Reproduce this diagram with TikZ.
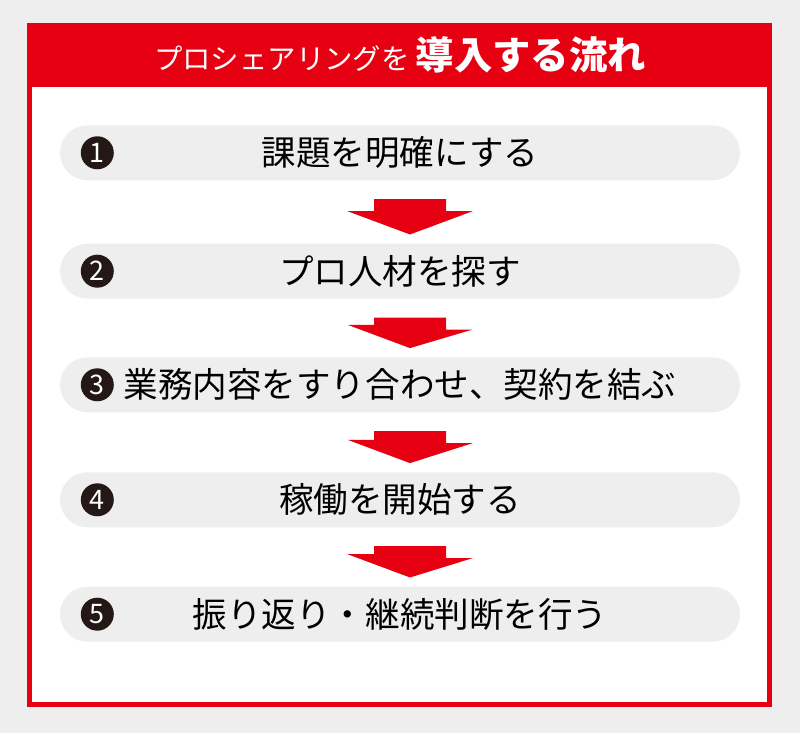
\documentclass[tikz,border=0pt]{standalone}
\usepackage{fontspec}
\setmainfont{Noto Sans CJK JP}
\definecolor{flowred}{HTML}{E60012}
\definecolor{bggray}{HTML}{EEEEEE}
\definecolor{pillgray}{HTML}{EEEEEE}
\definecolor{dotblack}{HTML}{231815}

\begin{document}
\begin{tikzpicture}[x=1bp,y=1bp,
          pill/.style={rectangle, rounded corners=27.5bp, fill=pillgray,
            minimum width=680bp, minimum height=55bp, inner sep=0pt,
            font=\fontsize{34.7}{40}\selectfont},
          numdot/.style={circle, fill=dotblack, text=white, minimum size=33bp,
            inner sep=0pt, font=\fontsize{27}{27}\selectfont},
          redarrow/.style={fill=flowred}]

        % background and frame
        \fill[bggray] (0,0) rectangle (800,733);
        \fill[flowred] (27.3,26.3) rectangle (772.3,709.7);
        \fill[white] (32.3,31.3) rectangle (767.3,646.3);

        \node[text=white] (title) at (400,678)
          {\fontsize{28.5}{30}\selectfont プロシェアリングを\hspace{6bp}\fontsize{38.5}{40}\selectfont\bfseries 導入する流れ};

        \node[pill] (s1) at (400,580.2) {課題を明確にする};
        \node[pill] (s2) at (400,461.8) {プロ人材を探す};
        \node[pill] (s3) at (400,348.2) {業務内容をすり合わせ、契約を結ぶ};
        \node[pill] (s4) at (400,233.2) {稼働を開始する};
        \node[pill] (s5) at (400,118.8) {振り返り・継続判断を行う};

        \node[numdot] (n1) at ([xshift=37.5bp]s1.west) {1};
        \node[numdot] (n2) at ([xshift=37.5bp]s2.west) {2};
        \node[numdot] (n3) at ([xshift=37.5bp]s3.west) {3};
        \node[numdot] (n4) at ([xshift=37.5bp]s4.west) {4};
        \node[numdot] (n5) at ([xshift=37.5bp]s5.west) {5};

        % block arrows between the steps
        \fill[redarrow] ([xshift=-26bp,yshift=-18.7bp]s1.south) -- ++(72,0) -- ++(0,-12)
          -- ++(26.5,0) -- ([xshift=10bp,yshift=9bp]s2.north) -- ++(-62.5,23.3) -- ++(26.5,0) -- cycle;
        \fill[redarrow] ([xshift=-26bp,yshift=-18.7bp]s2.south) -- ++(72,0) -- ++(0,-12)
          -- ++(26.5,0) -- ([xshift=10bp,yshift=9bp]s3.north) -- ++(-62.5,23.3) -- ++(26.5,0) -- cycle;
        \fill[redarrow] ([xshift=-26bp,yshift=-18.7bp]s3.south) -- ++(72,0) -- ++(0,-12)
          -- ++(26.5,0) -- ([xshift=10bp,yshift=9bp]s4.north) -- ++(-62.5,23.3) -- ++(26.5,0) -- cycle;
        \fill[redarrow] ([xshift=-26bp,yshift=-18.7bp]s4.south) -- ++(72,0) -- ++(0,-12)
          -- ++(26.5,0) -- ([xshift=10bp,yshift=9bp]s5.north) -- ++(-62.5,23.3) -- ++(26.5,0) -- cycle;

      \end{tikzpicture}
\end{document}
